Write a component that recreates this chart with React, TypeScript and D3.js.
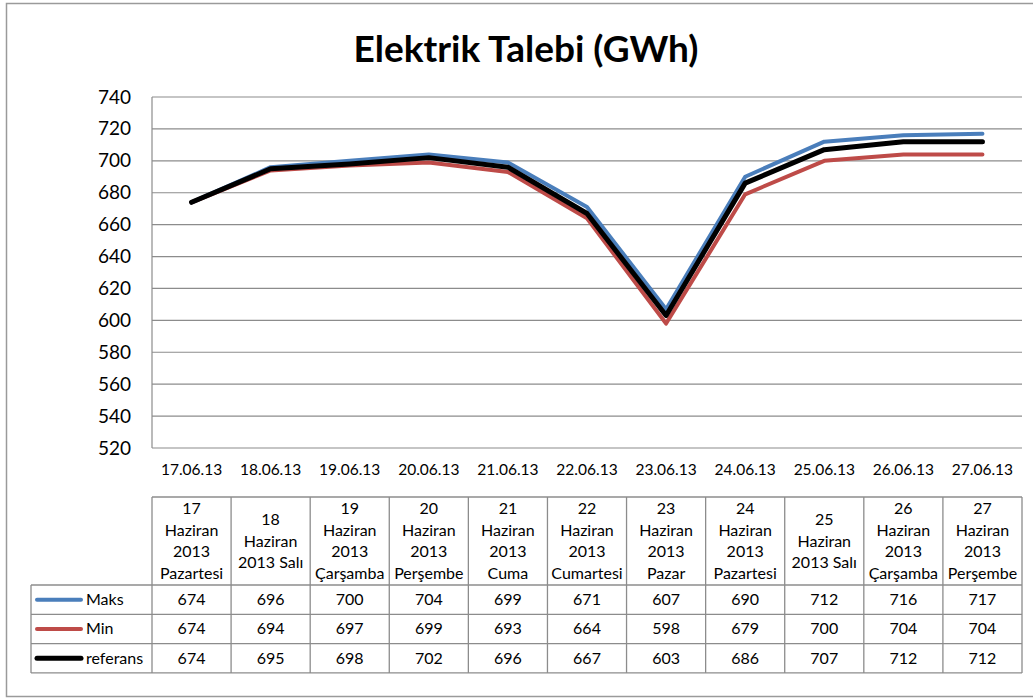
import React, { useEffect, useRef } from "react";
import * as d3 from "d3";

const dates = [
  "17.06.13", "18.06.13", "19.06.13", "20.06.13", "21.06.13", "22.06.13",
  "23.06.13", "24.06.13", "25.06.13", "26.06.13", "27.06.13",
];
const headerLabels = [
  ["17", "Haziran", "2013", "Pazartesi"],
  ["18", "Haziran", "2013 Salı"],
  ["19", "Haziran", "2013", "Çarşamba"],
  ["20", "Haziran", "2013", "Perşembe"],
  ["21", "Haziran", "2013", "Cuma"],
  ["22", "Haziran", "2013", "Cumartesi"],
  ["23", "Haziran", "2013", "Pazar"],
  ["24", "Haziran", "2013", "Pazartesi"],
  ["25", "Haziran", "2013 Salı"],
  ["26", "Haziran", "2013", "Çarşamba"],
  ["27", "Haziran", "2013", "Perşembe"],
];
const maks = [674, 696, 700, 704, 699, 671, 607, 690, 712, 716, 717];
const min = [674, 694, 697, 699, 693, 664, 598, 679, 700, 704, 704];
const referans = [674, 695, 698, 702, 696, 667, 603, 686, 707, 712, 712];
const yTicks = [520, 540, 560, 580, 600, 620, 640, 660, 680, 700, 720, 740];

const series = [
  { name: "Maks", values: maks, color: "#4a7ebb", width: 4 },
  { name: "Min", values: min, color: "#be4b48", width: 4 },
  { name: "referans", values: referans, color: "#000000", width: 5 },
];

const W = 1033;
const H = 698;
const FONT = "Lato, Carlito, 'Open Sans', sans-serif";

export default function App() {
  const svgRef = useRef<SVGSVGElement>(null);

  useEffect(() => {
    document.body.style.margin = "0";
    if (!svgRef.current) return;
    const svg = d3.select(svgRef.current);
    svg.selectAll("*").remove();

    const plot = { left: 152, right: 1022, top: 97, bottom: 448 };
    const gridColor = "#8c8c8c";

    // outer chart frame
    svg
      .append("rect")
      .attr("x", 6.5)
      .attr("y", 3.5)
      .attr("width", W + 10)
      .attr("height", 693)
      .attr("fill", "#fff")
      .attr("stroke", "#9a9a9a")
      .attr("stroke-width", 1.5);

    svg
      .append("text")
      .attr("x", 526)
      .attr("y", 62)
      .attr("text-anchor", "middle")
      .style("font-family", FONT)
      .style("font-size", "37px")
      .style("font-weight", "bold")
      .text("Elektrik Talebi (GWh)");

    const x = d3
      .scaleBand<number>()
      .domain(d3.range(dates.length))
      .range([plot.left, plot.right]);
    const y = d3.scaleLinear().domain([520, 740]).range([plot.bottom, plot.top]);

    // gridlines
    svg
      .append("g")
      .selectAll("line")
      .data(yTicks.filter((t) => t !== 520))
      .enter()
      .append("line")
      .attr("x1", plot.left)
      .attr("x2", plot.right)
      .attr("y1", (d) => y(d))
      .attr("y2", (d) => y(d))
      .attr("stroke", gridColor)
      .attr("stroke-width", 1.2);

    // axes lines
    svg
      .append("line")
      .attr("x1", plot.left)
      .attr("x2", plot.right)
      .attr("y1", plot.bottom)
      .attr("y2", plot.bottom)
      .attr("stroke", gridColor)
      .attr("stroke-width", 1.2);
    svg
      .append("line")
      .attr("x1", plot.left)
      .attr("x2", plot.left)
      .attr("y1", plot.top)
      .attr("y2", plot.bottom)
      .attr("stroke", gridColor)
      .attr("stroke-width", 1.2);

    // y tick labels
    svg
      .append("g")
      .selectAll("text")
      .data(yTicks)
      .enter()
      .append("text")
      .attr("x", 131)
      .attr("y", (d) => y(d) + 6.5)
      .attr("text-anchor", "end")
      .style("font-family", FONT)
      .style("font-size", "19px")
      .text((d) => d);

    // x labels
    svg
      .append("g")
      .selectAll("text")
      .data(dates)
      .enter()
      .append("text")
      .attr("x", (_d, i) => x(i)! + x.bandwidth() / 2)
      .attr("y", 475)
      .attr("text-anchor", "middle")
      .style("font-family", FONT)
      .style("font-size", "15.5px")
      .text((d) => d);

    // lines
    const line = d3
      .line<number>()
      .x((_d, i) => x(i)! + x.bandwidth() / 2)
      .y((d) => y(d));

    svg
      .append("g")
      .selectAll("path")
      .data(series)
      .enter()
      .append("path")
      .attr("d", (d) => line(d.values))
      .attr("fill", "none")
      .attr("stroke", (d) => d.color)
      .attr("stroke-width", (d) => d.width)
      .attr("stroke-linecap", "round")
      .attr("stroke-linejoin", "round");

    // data table
    const tbl = { top: 497, header: 585, rowH: 29.3, legendLeft: 31 };
    const tableColor = "#8c8c8c";
    const fs = "16px";
    const tg = svg.append("g");

    const bottom = tbl.header + tbl.rowH * series.length;
    tg.append("line")
      .attr("x1", plot.left)
      .attr("x2", plot.right)
      .attr("y1", tbl.top)
      .attr("y2", tbl.top)
      .attr("stroke", tableColor)
      .attr("stroke-width", 1.3);
    tg.selectAll("line.h")
      .data(d3.range(series.length + 1))
      .enter()
      .append("line")
      .attr("class", "h")
      .attr("x1", tbl.legendLeft)
      .attr("x2", plot.right)
      .attr("y1", (i) => tbl.header + i * tbl.rowH)
      .attr("y2", (i) => tbl.header + i * tbl.rowH)
      .attr("stroke", tableColor)
      .attr("stroke-width", 1.3);
    tg.selectAll("line.v")
      .data(d3.range(dates.length + 1))
      .enter()
      .append("line")
      .attr("class", "v")
      .attr("x1", (i) => plot.left + i * x.bandwidth())
      .attr("x2", (i) => plot.left + i * x.bandwidth())
      .attr("y1", tbl.top)
      .attr("y2", bottom)
      .attr("stroke", tableColor)
      .attr("stroke-width", 1.3);
    tg.append("line")
      .attr("x1", tbl.legendLeft)
      .attr("x2", tbl.legendLeft)
      .attr("y1", tbl.header)
      .attr("y2", bottom)
      .attr("stroke", tableColor)
      .attr("stroke-width", 1.3);

    // header cells
    headerLabels.forEach((lines, i) => {
      const cx = x(i)! + x.bandwidth() / 2;
      const lh = 21.5;
      const mid = (tbl.top + tbl.header) / 2;
      const start = mid - ((lines.length - 1) * lh) / 2;
      lines.forEach((t, j) => {
        tg.append("text")
          .attr("x", cx)
          .attr("y", start + j * lh + 5.5)
          .attr("text-anchor", "middle")
          .style("font-family", FONT)
          .style("font-size", fs)
          .text(t);
      });
    });

    // value rows
    series.forEach((s, r) => {
      const cy = tbl.header + r * tbl.rowH + tbl.rowH / 2;
      tg.append("line")
        .attr("x1", 37)
        .attr("x2", 81)
        .attr("y1", cy)
        .attr("y2", cy)
        .attr("stroke", s.color)
        .attr("stroke-width", s.width)
        .attr("stroke-linecap", "round");
      tg.append("text")
        .attr("x", 86)
        .attr("y", cy + 5.5)
        .style("font-family", FONT)
        .style("font-size", fs)
        .text(s.name);
      s.values.forEach((v, i) => {
        tg.append("text")
          .attr("x", x(i)! + x.bandwidth() / 2)
          .attr("y", cy + 5.5)
          .attr("text-anchor", "middle")
          .style("font-family", FONT)
          .style("font-size", fs)
          .text(v);
      });
    });
  }, []);

  return (
    <svg
      ref={svgRef}
      width={W}
      height={H}
      style={{ display: "block", background: "#fff" }}
    />
  );
}
